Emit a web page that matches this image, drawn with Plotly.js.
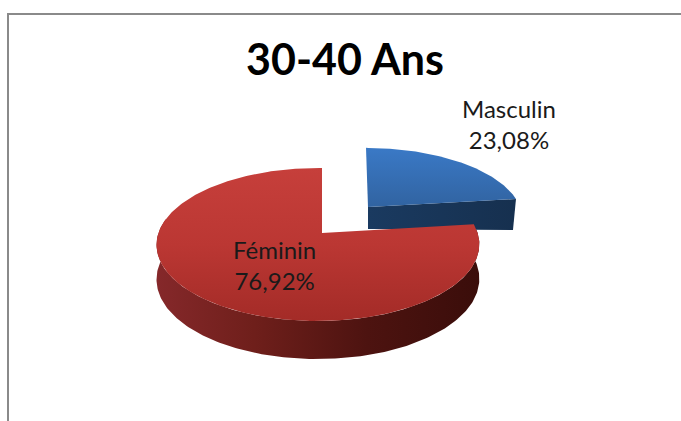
<!DOCTYPE html>
<html>
<head>
<meta charset="utf-8">
<script src="https://cdn.plot.ly/plotly-3.0.1.min.js"></script>
<style>html,body{margin:0;padding:0;background:#fff;overflow:hidden}#chart{width:681px;height:421px}</style>
</head>
<body>
<div id="chart"></div>
<script>
// Data
const categories = ['Féminin', 'Masculin'];
const shares = [76.92, 23.08];
const titleText = '30-40 Ans';

// Projection of a tilted disc (3D pie look), driven by the shares
const FONT = 'Lato, "Open Sans", sans-serif';
const K = 0.15;
function project(p, t) {
  const X = Math.sin(t), Y = -Math.cos(t);
  const w = 1 - K * Y + p.m * X;
  return [p.ox + p.b * X / w + p.s * Y, p.oy + p.a * Y / w, Y, X];
}
const blueSweep = shares[1] / 100 * 2 * Math.PI;
const redGeom = {ox: 322, oy: 233, a: 74.8, b: 159.5, m: 0.025, s: 0};
const blueGeom = {ox: 368, oy: 207, a: 68, b: 152, m: 0, s: 2};

function arc(p, t0, t1, n) {
  const pts = [];
  for (let i = 0; i <= n; i++) pts.push(project(p, t0 + (t1 - t0) * i / n));
  return pts;
}
function poly(xs, ys, colors, type, start, stop) {
  return {
    type: 'scatter', mode: 'lines', x: xs, y: ys, fill: 'toself',
    line: {width: 0}, hoverinfo: 'skip', showlegend: false,
    fillgradient: {type: type, start: start, stop: stop, colorscale: colors}
  };
}

// Red side wall
const redArcSide = arc(redGeom, blueSweep, 1.56 * Math.PI, 200);
const redDepth = Y => 34 + 4 * Y;
const redSideX = redArcSide.map(q => q[0]).concat(redArcSide.map(q => q[0]).reverse());
const redSideY = redArcSide.map(q => q[1]).concat(redArcSide.map(q => q[1] + redDepth(q[2])).reverse());
const redSide = poly(redSideX, redSideY,
  [[0, '#3a0d0a'], [0.35, '#4d1310'], [0.7, '#6f1f1b'], [1, '#85282a']],
  'horizontal', 480, 157);

// Red top
const redArcTop = arc(redGeom, blueSweep, 2 * Math.PI, 300);
const redTopX = redArcTop.map(q => q[0]).concat([redGeom.ox]);
const redTopY = redArcTop.map(q => q[1]).concat([redGeom.oy]);
const redTop = poly(redTopX, redTopY,
  [[0, '#c63f3b'], [0.5, '#bb3733'], [1, '#a32b27']],
  'vertical', 168, 322);

// Blue cut face
const blueTip = project(blueGeom, blueSweep);
const blueApex = [blueGeom.ox, blueGeom.oy];
const blueSide = poly(
  [blueApex[0], blueTip[0], blueTip[0] - 3, blueApex[0]],
  [blueApex[1], blueTip[1], blueTip[1] + 31, blueApex[1] + 22],
  [[0, '#1a3a60'], [1, '#16304f']], 'horizontal', 368, 516);

// Blue top
const blueArc = arc(blueGeom, 0, blueSweep, 80);
const blueTop = poly(
  [blueGeom.ox].concat(blueArc.map(q => q[0])),
  [blueGeom.oy].concat(blueArc.map(q => q[1])),
  [[0, '#3a79c6'], [0.55, '#3368a9'], [1, '#2b5a92']], 'vertical', 148, 232);

const fmt = v => v.toFixed(2).replace('.', ',') + '%';
const labelPos = [[274.5, 265], [508.5, 124]];

const layout = {
  width: 681, height: 421,
  margin: {l: 0, r: 0, t: 0, b: 0},
  paper_bgcolor: '#ffffff', plot_bgcolor: '#ffffff',
  xaxis: {range: [0, 681], visible: false, fixedrange: true},
  yaxis: {range: [421, 0], visible: false, fixedrange: true},
  title: {text: '<b>' + titleText + '</b>', x: 345 / 681, xanchor: 'center', y: 1 - 60 / 421, yanchor: 'middle',
          font: {family: FONT, size: 43, color: '#000000'}},
  shapes: [{type: 'rect', xref: 'x', yref: 'y', x0: 8, y0: 14, x1: 720, y1: 460,
            line: {color: '#8a8a8a', width: 2}, layer: 'below'}],
  annotations: categories.map((c, i) => ({
    xref: 'x', yref: 'y', x: labelPos[i][0], y: labelPos[i][1], showarrow: false,
    text: c + '<br>' + fmt(shares[i]), align: 'center',
    font: {family: FONT, size: 24, weight: 400, color: '#1a1a1a'}
  }))
};
Plotly.newPlot('chart', [redSide, blueSide, blueTop, redTop], layout, {staticPlot: true, displayModeBar: false});
</script>
</body>
</html>
